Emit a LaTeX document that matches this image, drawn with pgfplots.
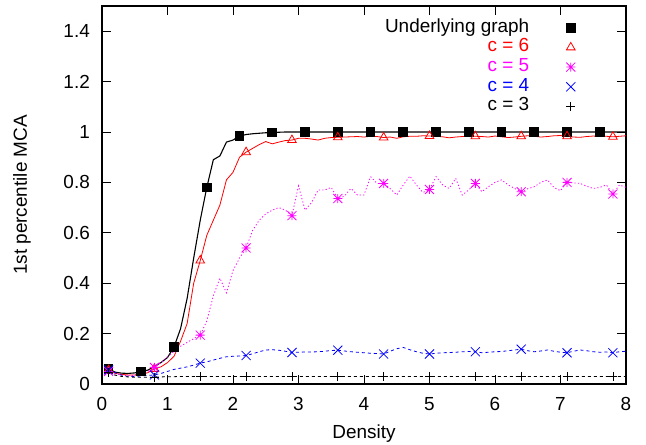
\documentclass[border=0pt]{standalone}
\usepackage{fontspec}
\setmainfont{Liberation Sans}
\usepackage{pgfplots}
\usepackage{pgfplotstable}
\pgfplotsset{compat=1.18}
\definecolor{gpred}{RGB}{255,0,0}
\definecolor{gpmag}{RGB}{255,0,255}
\definecolor{gpblue}{RGB}{0,0,255}

% gnuplot point type 3: plus and cross on top of each other
\pgfdeclareplotmark{gpstar}{%
  \pgfpathmoveto{\pgfqpoint{-\pgfplotmarksize}{0pt}}%
  \pgfpathlineto{\pgfqpoint{\pgfplotmarksize}{0pt}}%
  \pgfpathmoveto{\pgfqpoint{0pt}{-\pgfplotmarksize}}%
  \pgfpathlineto{\pgfqpoint{0pt}{\pgfplotmarksize}}%
  \pgfpathmoveto{\pgfqpoint{-\pgfplotmarksize}{-\pgfplotmarksize}}%
  \pgfpathlineto{\pgfqpoint{\pgfplotmarksize}{\pgfplotmarksize}}%
  \pgfpathmoveto{\pgfqpoint{-\pgfplotmarksize}{\pgfplotmarksize}}%
  \pgfpathlineto{\pgfqpoint{\pgfplotmarksize}{-\pgfplotmarksize}}%
  \pgfusepathqstroke}

% density, underlying graph, c=6, c=5, c=4, c=3
\pgfplotstableread{
x   g     c6    c5    c4    c3
0.1 0.060 0.055 0.050 0.056 0.045
0.2 0.047 0.042 0.040 0.045 0.035
0.3 0.043 0.038 0.035 0.035 0.030
0.4 0.042 0.036 0.033 0.030 0.028
0.5 0.044 0.036 0.035 0.030 0.027
0.6 0.050 0.038 0.040 0.032 0.027
0.7 0.055 0.045 0.050 0.034 0.027
0.8 0.070 0.060 0.066 0.036 0.027
0.9 0.085 0.068 0.085 0.042 0.028
1.0 0.105 0.085 0.107 0.050 0.029
1.1 0.147 0.110 0.130 0.058 0.029
1.2 0.220 0.170 0.150 0.063 0.030
1.3 0.340 0.240 0.165 0.068 0.030
1.4 0.500 0.400 0.180 0.075 0.030
1.5 0.650 0.490 0.194 0.083 0.030
1.6 0.780 0.590 0.250 0.088 0.030
1.7 0.890 0.650 0.350 0.095 0.030
1.8 0.905 0.710 0.420 0.102 0.030
1.9 0.960 0.810 0.362 0.108 0.030
2.0 0.968 0.840 0.450 0.110 0.030
2.1 0.984 0.900 0.500 0.111 0.030
2.2 0.990 0.920 0.540 0.113 0.030
2.3 0.993 0.935 0.610 0.120 0.030
2.4 0.995 0.950 0.650 0.128 0.030
2.5 0.997 0.962 0.675 0.135 0.030
2.6 0.998 0.953 0.690 0.136 0.030
2.7 0.999 0.960 0.700 0.134 0.030
2.8 1.000 0.966 0.690 0.130 0.030
2.9 1.000 0.968 0.668 0.125 0.030
3.0 1.000 0.975 0.786 0.126 0.030
3.1 1.000 0.975 0.690 0.127 0.030
3.2 1.000 0.972 0.720 0.127 0.030
3.3 1.000 0.968 0.770 0.128 0.030
3.4 1.000 0.975 0.770 0.130 0.030
3.5 1.000 0.978 0.780 0.133 0.030
3.6 1.000 0.979 0.736 0.134 0.030
3.7 1.000 0.980 0.745 0.131 0.030
3.8 1.000 0.981 0.776 0.128 0.030
3.9 1.000 0.982 0.750 0.126 0.030
4.0 1.000 0.980 0.750 0.124 0.030
4.1 1.000 0.983 0.823 0.122 0.030
4.2 1.000 0.982 0.796 0.121 0.030
4.3 1.000 0.978 0.796 0.119 0.030
4.4 1.000 0.980 0.775 0.130 0.030
4.5 1.000 0.975 0.750 0.140 0.030
4.6 1.000 0.981 0.790 0.145 0.030
4.7 1.000 0.983 0.825 0.136 0.030
4.8 1.000 0.983 0.790 0.128 0.030
4.9 1.000 0.985 0.760 0.122 0.030
5.0 1.000 0.984 0.772 0.119 0.030
5.1 1.000 0.983 0.823 0.122 0.030
5.2 1.000 0.981 0.790 0.124 0.030
5.3 1.000 0.977 0.776 0.125 0.030
5.4 1.000 0.980 0.816 0.126 0.030
5.5 1.000 0.982 0.750 0.128 0.030
5.6 1.000 0.984 0.770 0.129 0.030
5.7 1.000 0.983 0.796 0.128 0.030
5.8 1.000 0.982 0.763 0.124 0.030
5.9 1.000 0.980 0.783 0.126 0.030
6.0 1.000 0.984 0.800 0.128 0.030
6.1 1.000 0.981 0.810 0.129 0.030
6.2 1.000 0.978 0.790 0.132 0.030
6.3 1.000 0.980 0.776 0.135 0.030
6.4 1.000 0.983 0.763 0.138 0.030
6.5 1.000 0.985 0.775 0.132 0.030
6.6 1.000 0.983 0.783 0.128 0.030
6.7 1.000 0.980 0.800 0.131 0.030
6.8 1.000 0.982 0.810 0.135 0.030
6.9 1.000 0.985 0.780 0.130 0.030
7.0 1.000 0.986 0.767 0.126 0.030
7.1 1.000 0.983 0.800 0.124 0.030
7.2 1.000 0.980 0.798 0.130 0.030
7.3 1.000 0.979 0.796 0.135 0.030
7.4 1.000 0.982 0.785 0.132 0.030
7.5 1.000 0.984 0.776 0.128 0.030
7.6 1.000 0.982 0.780 0.126 0.030
7.7 1.000 0.983 0.790 0.127 0.030
7.8 1.000 0.981 0.754 0.124 0.030
7.9 1.000 0.983 0.790 0.128 0.030
8.0 1.000 0.985 0.780 0.130 0.030
}\mcadata

\begin{document}
\fontsize{19}{22}\selectfont
\begin{tikzpicture}
\useasboundingbox (-102bp,-61bp) rectangle (544bp,384bp);
\begin{axis}[
  scale only axis, width=524bp, height=378bp,
  xmin=0, xmax=8, ymin=0, ymax=1.5,
  xtick={0,1,2,3,4,5,6,7,8},
  ytick={0,0.2,0.4,0.6,0.8,1,1.2,1.4},
  tick align=inside, xtick pos=both, ytick pos=both,
  xticklabel pos=lower, yticklabel pos=left,
  major tick length=9bp, minor tick num=0,
  every tick/.style={black, line width=0.8bp},
  axis line style={line width=1.2bp},
  tick label style={/pgf/number format/assume math mode=true},
  yticklabel style={anchor=east, inner sep=0pt, xshift=-12bp},
  xticklabel style={anchor=north, inner sep=0pt, yshift=-13bp},
  xlabel={Density},
  xlabel style={at={(axis description cs:0.5,-0.1085)}, anchor=north, inner sep=0pt},
  ylabel={1st percentile MCA},
  ylabel style={at={(axis description cs:-0.1355,0.5)}, anchor=south, inner sep=0pt},
  legend cell align=right, legend plot pos=right,
  legend image code/.code={\path (0bp,0bp); \draw[mark repeat=1,mark phase=1] plot coordinates {(41bp,0bp)};},
  legend style={draw=none, fill=none, at={(rel axis cs:1,1)}, anchor=north east,
    xshift=-47.5bp, yshift=-10bp, row sep=0.7bp, column sep=0pt,
    nodes={inner sep=0pt, text height=14bp, text depth=5bp}},
]
\addplot[black, line width=1.1bp, mark=square*, mark size=4.3bp, mark repeat=5, mark phase=1, mark options={solid}]
  table[x=x, y=g] {\mcadata};
\addlegendentry{Underlying graph}
\addplot[gpred, line width=0.8bp, mark=triangle, mark size=5bp, mark repeat=7, mark phase=1, mark options={solid}]
  table[x=x, y=c6] {\mcadata};
\addlegendentry{\color{gpred}c = 6}
\addplot[gpmag, line width=0.8bp, dash pattern=on 1.2bp off 2.2bp, mark=gpstar, mark size=4.5bp, mark repeat=7, mark phase=1, mark options={solid}]
  table[x=x, y=c5] {\mcadata};
\addlegendentry{\color{gpmag}c = 5}
\addplot[gpblue, line width=0.8bp, dash pattern=on 3bp off 3bp, mark=x, mark size=6.4bp, mark repeat=7, mark phase=1, mark options={solid}]
  table[x=x, y=c4] {\mcadata};
\addlegendentry{\color{gpblue}c = 4}
\addplot[black, line width=0.8bp, dash pattern=on 3bp off 3bp, mark=+, mark size=4.5bp, mark repeat=7, mark phase=1, mark options={solid}]
  table[x=x, y=c3] {\mcadata};
\addlegendentry{c = 3}
\end{axis}
\end{tikzpicture}
\end{document}
